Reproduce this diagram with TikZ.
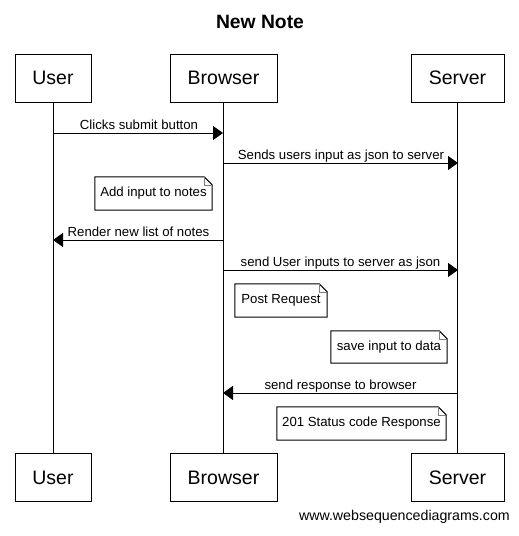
\documentclass[tikz,border=0pt]{standalone}
\usepackage{fontspec}
\setmainfont{Liberation Sans}
\usetikzlibrary{arrows.meta,calc}
\begin{document}
\begin{tikzpicture}[x=1pt,y=-1pt,
  actor/.style={draw,line width=1pt,minimum height=48pt,inner sep=0pt,font=\fontsize{19.5}{20}\selectfont},
  msg/.style={line width=1pt,-{Triangle[length=10pt,width=14pt]}},
  lbl/.style={inner sep=0pt,anchor=base,font=\fontsize{13.2}{14}\selectfont},
  notebox/.style={inner sep=0pt,font=\fontsize{13.2}{14}\selectfont},
  life/.style={line width=1pt}]
\useasboundingbox[fill=white] (0,0) rectangle (519,536);
\node[font=\bfseries\fontsize{19.3}{20}\selectfont] (title) at (260,22) {New Note};
% top actors
\node[actor,minimum width=76pt] (ut) at (53,78) {User};
\node[actor,minimum width=107pt] (bt) at (223.5,78) {Browser};
\node[actor,minimum width=93pt] (st) at (457.5,78) {Server};
% bottom actors
\node[actor,minimum width=76pt] (ub) at (53,477.5) {User};
\node[actor,minimum width=107pt] (bb) at (223.5,477.5) {Browser};
\node[actor,minimum width=93pt] (sb) at (457.5,477.5) {Server};
% lifelines
\draw[life] (ut.south) -- (ub.north);
\draw[life] (bt.south) -- (bb.north);
\draw[life] (st.south) -- (sb.north);
% message anchor coordinates
\coordinate (u1) at (53,133); \coordinate (b1) at (223,133);
\coordinate (b2) at (223,163); \coordinate (s2) at (458,163);
\coordinate (b4) at (223,240); \coordinate (u4) at (53,240);
\coordinate (b5) at (223,270); \coordinate (s5) at (458,270);
\coordinate (s8) at (458,393); \coordinate (b8) at (223,393);
% messages
\draw[msg] (u1) -- (b1);
\node[lbl] (l1) at (139,129.5) {Clicks submit button};
\draw[msg] (b2) -- (s2);
\node[lbl] (l2) at (341,159.5) {Sends users input as json to server};
\draw[msg] (b4) -- (u4);
\node[lbl] (l4) at (138.5,236.5) {Render new list of notes};
\draw[msg] (b5) -- (s5);
\node[lbl] (l5) at (340.5,266.5) {send User inputs to server as json};
\draw[msg] (s8) -- (b8);
\node[lbl] (l8) at (340.5,389.5) {send response to browser};
% notes
\newcommand{\mynote}[6]{%
  \node[notebox,minimum width=#4pt,minimum height=#5pt] (#1) at (#2,#3) {#6};
  \draw[line width=1pt] (#1.north west) -- ($(#1.north east)+(-8,0)$) -- ($(#1.north east)+(0,8)$) -- (#1.south east) -- (#1.south west) -- cycle;
  \draw[line width=0.6pt,gray] ($(#1.north east)+(-8,0)$) -- ($(#1.north east)+(-8,8)$) -- ($(#1.north east)+(0,8)$);
}
\mynote{n1}{153.5}{193.5}{117}{33}{Add input to notes}
\mynote{n2}{281}{300.5}{92}{33}{Post Request}
\mynote{n3}{389}{347}{116}{32}{save input to data}
\mynote{n4}{361.5}{423.5}{169}{33}{201 Status code Response}
% footer
\node[inner sep=0pt,anchor=base east,font=\fontsize{14.2}{15}\selectfont] (footer) at (510,520) {www.websequencediagrams.com};
\end{tikzpicture}
\end{document}
